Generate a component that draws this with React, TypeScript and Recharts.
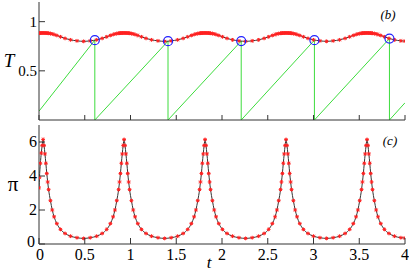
import React from 'react';
import { ComposedChart, Line, Scatter, XAxis, YAxis } from 'recharts';

// time samples (denser around the peaks)
const tValues = [
  0, 0.005, 0.015, 0.025, 0.035, 0.045, 0.055, 0.065, 0.075, 0.085, 0.095, 0.105, 0.125, 0.145, 0.165, 0.195, 0.235, 0.285, 0.345, 0.415, 0.488,
  0.56, 0.63, 0.69, 0.74, 0.78, 0.81, 0.83, 0.85, 0.87, 0.88, 0.89, 0.9, 0.91, 0.92, 0.93, 0.94, 0.95, 0.96, 0.97, 0.98, 0.99, 1.01, 1.03, 1.05, 1.08, 1.12, 1.17, 1.23, 1.3, 1.373,
  1.445, 1.515, 1.575, 1.625, 1.665, 1.695, 1.715, 1.735, 1.755, 1.765, 1.775, 1.785, 1.795, 1.805, 1.815, 1.825, 1.835, 1.845, 1.855, 1.865, 1.875, 1.895, 1.915, 1.935, 1.965, 2.005, 2.055, 2.115, 2.185, 2.258,
  2.33, 2.4, 2.46, 2.51, 2.55, 2.58, 2.6, 2.62, 2.64, 2.65, 2.66, 2.67, 2.68, 2.69, 2.7, 2.71, 2.72, 2.73, 2.74, 2.75, 2.76, 2.78, 2.8, 2.82, 2.85, 2.89, 2.94, 3.0, 3.07, 3.143,
  3.215, 3.285, 3.345, 3.395, 3.435, 3.465, 3.485, 3.505, 3.525, 3.535, 3.545, 3.555, 3.565, 3.575, 3.585, 3.595, 3.605, 3.615, 3.625, 3.635, 3.645, 3.665, 3.685, 3.705, 3.735, 3.775, 3.825, 3.885, 3.955, 4.0,
];

// panel (b): T
const tempValues = [
  0.883, 0.884, 0.884, 0.885, 0.885, 0.885, 0.885, 0.885, 0.884, 0.884, 0.883, 0.882, 0.879, 0.875, 0.869, 0.86, 0.846, 0.83, 0.815, 0.805, 0.8,
  0.805, 0.815, 0.83, 0.846, 0.86, 0.869, 0.875, 0.879, 0.882, 0.883, 0.884, 0.884, 0.885, 0.885, 0.885, 0.885, 0.885, 0.884, 0.884, 0.883, 0.882, 0.879, 0.875, 0.869, 0.86, 0.846, 0.83, 0.815, 0.805, 0.8,
  0.805, 0.815, 0.83, 0.846, 0.86, 0.869, 0.875, 0.879, 0.882, 0.883, 0.884, 0.884, 0.885, 0.885, 0.885, 0.885, 0.885, 0.884, 0.884, 0.883, 0.882, 0.879, 0.875, 0.869, 0.86, 0.846, 0.83, 0.815, 0.805, 0.8,
  0.805, 0.815, 0.83, 0.846, 0.86, 0.869, 0.875, 0.879, 0.882, 0.883, 0.884, 0.884, 0.885, 0.885, 0.885, 0.885, 0.885, 0.884, 0.884, 0.883, 0.882, 0.879, 0.875, 0.869, 0.86, 0.846, 0.83, 0.815, 0.805, 0.8,
  0.805, 0.815, 0.83, 0.846, 0.86, 0.869, 0.875, 0.879, 0.882, 0.883, 0.884, 0.884, 0.885, 0.885, 0.885, 0.885, 0.885, 0.884, 0.884, 0.883, 0.882, 0.879, 0.875, 0.869, 0.86, 0.846, 0.83, 0.815, 0.805, 0.802,
];

// panel (c): pi
const piValues = [
  3.3, 3.9, 4.75, 5.35, 5.8, 6.15, 5.8, 5.3, 4.75, 4.15, 3.65, 3.2, 2.55, 2.0, 1.6, 1.2, 0.86, 0.62, 0.46, 0.37, 0.33,
  0.37, 0.46, 0.62, 0.86, 1.2, 1.6, 2.0, 2.55, 3.2, 3.65, 4.15, 4.75, 5.3, 5.8, 6.15, 5.8, 5.3, 4.75, 4.15, 3.65, 3.2, 2.55, 2.0, 1.6, 1.2, 0.86, 0.62, 0.46, 0.37, 0.33,
  0.37, 0.46, 0.62, 0.86, 1.2, 1.6, 2.0, 2.55, 3.2, 3.65, 4.15, 4.75, 5.3, 5.8, 6.15, 5.8, 5.3, 4.75, 4.15, 3.65, 3.2, 2.55, 2.0, 1.6, 1.2, 0.86, 0.62, 0.46, 0.37, 0.33,
  0.37, 0.46, 0.62, 0.86, 1.2, 1.6, 2.0, 2.55, 3.2, 3.65, 4.15, 4.75, 5.3, 5.8, 6.15, 5.8, 5.3, 4.75, 4.15, 3.65, 3.2, 2.55, 2.0, 1.6, 1.2, 0.86, 0.62, 0.46, 0.37, 0.33,
  0.37, 0.46, 0.62, 0.86, 1.2, 1.6, 2.0, 2.55, 3.2, 3.65, 4.15, 4.75, 5.3, 5.8, 6.15, 5.8, 5.3, 4.75, 4.15, 3.65, 3.2, 2.55, 2.0, 1.6, 1.2, 0.86, 0.62, 0.46, 0.37, 0.35,
];

// green sawtooth
const sawT = [0, 0.61, 0.61, 1.41, 1.41, 2.21, 2.21, 3.01, 3.01, 3.83, 3.83, 4.0];
const sawV = [0.09, 0.812, 0, 0.802, 0, 0.803, 0, 0.812, 0, 0.828, 0, 0.175];

// blue circles
const crossT = [0.61, 1.41, 2.21, 3.01, 3.83];
const crossV = [0.812, 0.802, 0.803, 0.812, 0.828];

// ticks
const topXTicks = [0, 0.5, 1, 1.5, 2, 2.5, 3, 3.5, 4];
const topYTicks = [0, 0.5, 1];
const bottomXTicks = [0, 0.25, 0.5, 0.75, 1, 1.25, 1.5, 1.75, 2, 2.25, 2.5, 2.75, 3, 3.25, 3.5, 3.75, 4];
const bottomXLabels = [0, 0.5, 1, 1.5, 2, 2.5, 3, 3.5, 4];
const bottomYTicks = [0, 1, 2, 3, 4, 5, 6];
const bottomYLabels = [0, 2, 4, 6];

const curveT = tValues.map((t, i) => ({ t, v: tempValues[i] }));
const curvePi = tValues.map((t, i) => ({ t, v: piValues[i] }));
const saw = sawT.map((t, i) => ({ t, v: sawV[i] }));
const cross = crossT.map((t, i) => ({ t, v: crossV[i] }));

const SERIF = 'Liberation Serif, DejaVu Serif, Times New Roman, serif';
const AXIS = '#333';
const FRAME = '#8a8a8a';
const RED = '#ff2020';

function StarDot(props: any) {
  const { cx, cy } = props;
  if (cx == null || cy == null) return null;
  const r = 1.9;
  const d = 1.4;
  return (
    <g stroke={RED} strokeWidth={1}>
      <line x1={cx - r} y1={cy} x2={cx + r} y2={cy} />
      <line x1={cx} y1={cy - r} x2={cx} y2={cy + r} />
      <line x1={cx - d} y1={cy - d} x2={cx + d} y2={cy + d} />
      <line x1={cx - d} y1={cy + d} x2={cx + d} y2={cy - d} />
    </g>
  );
}

const renderDot = (p: any) => <StarDot key={`d${p.index}`} cx={p.cx} cy={p.cy} />;

function TopXTick(props: any) {
  const { x, y } = props;
  return <line x1={x} y1={y} x2={x} y2={y - 5} stroke={AXIS} strokeWidth={1} />;
}

function BottomXTick(props: any) {
  const { x, y, payload } = props;
  const v = payload.value;
  const major = bottomXLabels.some((l) => Math.abs(l - v) < 1e-6);
  return (
    <g>
      <line x1={x} y1={y} x2={x} y2={y - (major ? 6 : 4)} stroke={AXIS} strokeWidth={1} />
      {major && (
        <text x={x + (v === 0 ? 1 : 0)} y={y + 15.5} textAnchor="middle" fontFamily={SERIF} fontSize={16} fill="#000">
          {String(v)}
        </text>
      )}
    </g>
  );
}

function makeLeftTick(labels: number[], fontSize: number, shiftZero: number) {
  return function LeftTick(props: any) {
    const { x, y, payload } = props;
    const v = payload.value;
    const major = labels.some((l) => Math.abs(l - v) < 1e-6);
    return (
      <g>
        <line x1={x} y1={y} x2={x + (major ? 6 : 4)} y2={y} stroke={AXIS} strokeWidth={1} />
        {major && (
          <text x={x - 2 - (v === 0 ? shiftZero : 0)} y={y + fontSize * 0.33 - (v === 0 ? shiftZero : 0)} textAnchor="end" fontFamily={SERIF} fontSize={fontSize} fill="#000">
            {String(v)}
          </text>
        )}
      </g>
    );
  };
}

const TopLeftTick = makeLeftTick(topYTicks, 15, 0);
const BottomLeftTick = makeLeftTick(bottomYLabels, 16, 2);

export default function App() {
  return (
    <div style={{ position: 'absolute', left: 0, top: 0, width: 409, height: 273, background: '#fff' }}>
      <div style={{ position: 'absolute', left: 0, top: 0 }}>
        <ComposedChart width={409} height={122} margin={{ top: 2, right: 4, bottom: 0, left: 0 }}>
          <XAxis dataKey="t" type="number" domain={[0, 4]} ticks={topXTicks} height={2} tickSize={0} tickMargin={0}
            tickLine={false} axisLine={{ stroke: AXIS }} tick={<TopXTick />} allowDataOverflow />
          <YAxis type="number" domain={[0, 1.2]} ticks={topYTicks} width={39} tickSize={0} tickMargin={0}
            tickLine={false} axisLine={{ stroke: AXIS }} tick={<TopLeftTick />} allowDataOverflow />
          <XAxis xAxisId="top" orientation="top" type="number" domain={[0, 4]} height={0} tick={false} tickLine={false} axisLine={{ stroke: FRAME }} />
          <YAxis yAxisId="right" orientation="right" type="number" domain={[0, 1]} width={0} tick={false} tickLine={false} axisLine={{ stroke: FRAME }} />
          <Line data={saw} dataKey="v" type="linear" stroke="#3ddc3d" strokeWidth={1} dot={false} isAnimationActive={false} />
          <Line data={curveT} dataKey="v" type="monotone" stroke="#333" strokeWidth={1} dot={renderDot} isAnimationActive={false} />
          <Scatter data={cross} dataKey="v" isAnimationActive={false}
            shape={(p: any) => <circle cx={p.cx} cy={p.cy} r={4.5} fill="none" stroke="#2020ff" strokeWidth={1.2} />} />
        </ComposedChart>
      </div>
      <div style={{ position: 'absolute', left: 0, top: 122 }}>
        <ComposedChart width={409} height={151} margin={{ top: 3, right: 4, bottom: 0, left: 0 }}>
          <XAxis dataKey="t" type="number" domain={[0, 4]} ticks={bottomXTicks} height={29} tickSize={0} tickMargin={0}
            tickLine={false} axisLine={{ stroke: AXIS }} tick={<BottomXTick />} allowDataOverflow />
          <YAxis type="number" domain={[0, 7]} ticks={bottomYTicks} width={39} tickSize={0} tickMargin={0}
            tickLine={false} axisLine={{ stroke: AXIS }} tick={<BottomLeftTick />} allowDataOverflow />
          <XAxis xAxisId="top" orientation="top" type="number" domain={[0, 4]} height={0} tick={false} tickLine={false} axisLine={{ stroke: FRAME }} />
          <YAxis yAxisId="right" orientation="right" type="number" domain={[0, 1]} width={0} tick={false} tickLine={false} axisLine={{ stroke: FRAME }} />
          <Line data={curvePi} dataKey="v" type="monotone" stroke="#333" strokeWidth={1} dot={renderDot} isAnimationActive={false} />
        </ComposedChart>
      </div>
      <svg width={409} height={273} style={{ position: 'absolute', left: 0, top: 0, pointerEvents: 'none' }}>
        <text x={9} y={67} textAnchor="middle" fontFamily={SERIF} fontStyle="italic" fontSize={19} fill="#000">T</text>
        <text x={13} y={191} textAnchor="middle" fontFamily={SERIF} fontSize={21} fill="#000">π</text>
        <text x={209} y={268} textAnchor="middle" fontFamily={SERIF} fontStyle="italic" fontSize={17} fill="#000">t</text>
        <text x={388} y={19} textAnchor="middle" fontFamily={SERIF} fontStyle="italic" fontSize={13} fill="#000">(b)</text>
        <text x={390} y={145} textAnchor="middle" fontFamily={SERIF} fontStyle="italic" fontSize={13} fill="#000">(c)</text>
      </svg>
    </div>
  );
}
